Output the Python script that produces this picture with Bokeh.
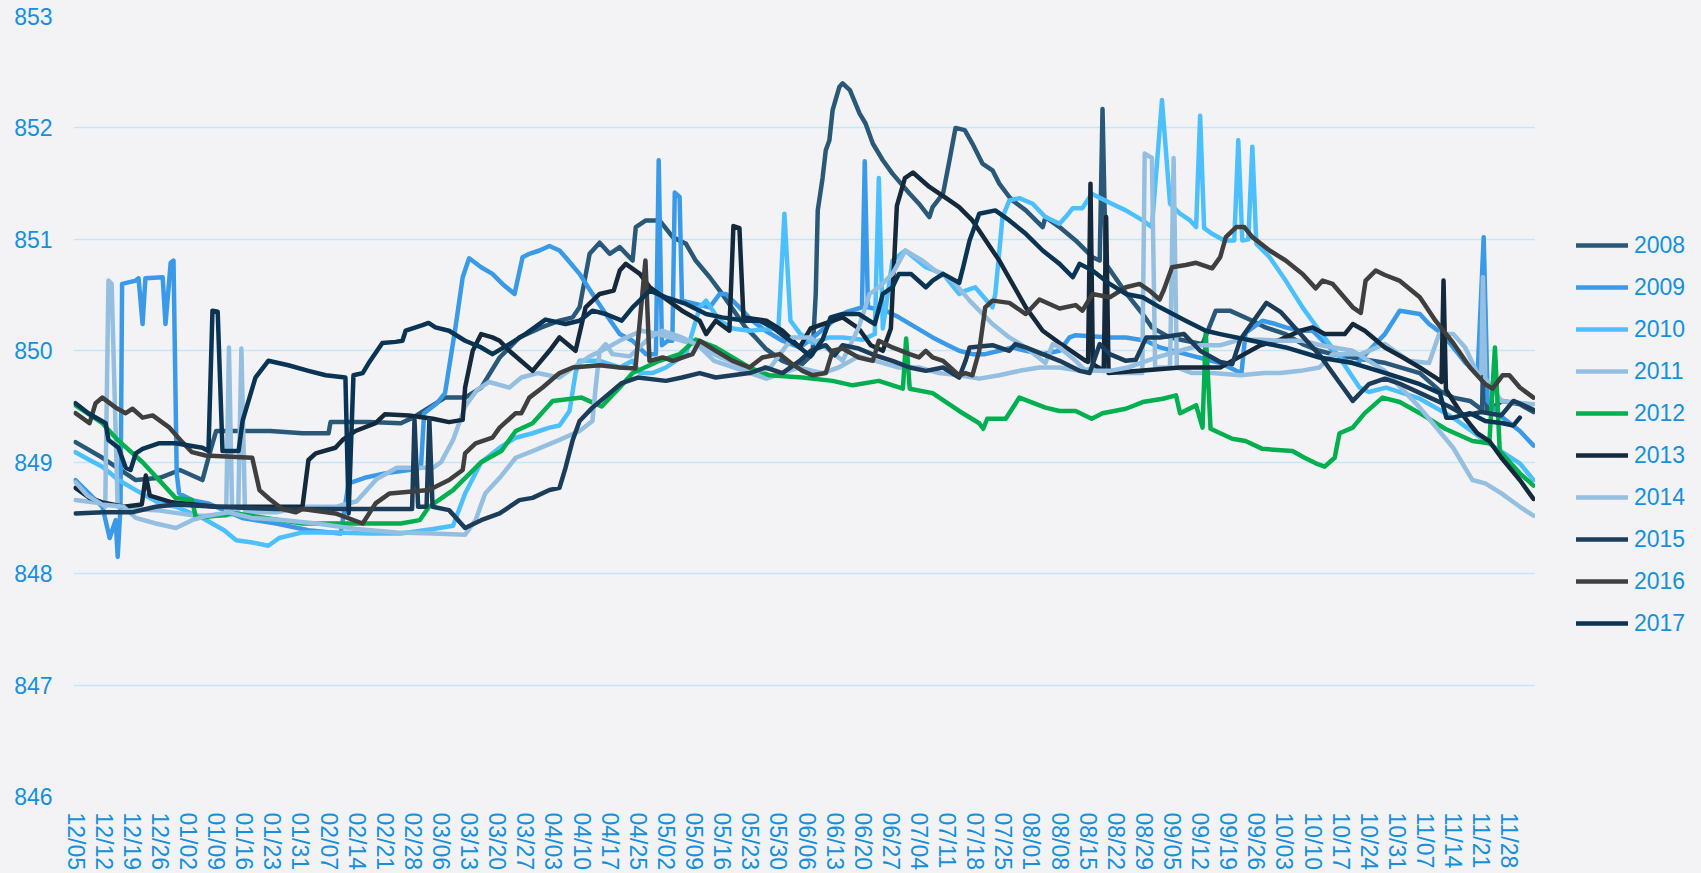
from bokeh.plotting import figure
from bokeh.layouts import row
from bokeh.models import FixedTicker, Legend, LegendItem, Range1d
from bokeh.embed import file_html
from bokeh.resources import INLINE

BG = "#f3f3f6"
TXT = "#1590dc"
FONT = "Liberation Sans"

years = ["2008", "2009", "2010", "2011", "2012", "2013", "2014", "2015", "2016", "2017"]
colors = ["#2a5878", "#3a9ae8", "#4cc0ff", "#94bfe0", "#00b050",
          "#15293c", "#94bfe0", "#1b3d5a", "#3f3f3f", "#0a3454"]

tick_labels = ["12/05", "12/12", "12/19", "12/26", "01/02", "01/09", "01/16", "01/23", "01/31",
               "02/07", "02/14", "02/21", "02/28", "03/06", "03/13", "03/20", "03/27", "04/03",
               "04/10", "04/17", "04/25", "05/02", "05/09", "05/16", "05/23", "05/30", "06/06",
               "06/13", "06/20", "06/27", "07/04", "07/11", "07/18", "07/25", "08/01", "08/08",
               "08/15", "08/22", "08/29", "09/05", "09/12", "09/19", "09/26", "10/03", "10/10",
               "10/17", "10/24", "10/31", "11/07", "11/14", "11/21", "11/28"]
n_days = 364

# (day index from 12/05, water level) pairs
s2008 = [(0,849.18),(6.7,849.04),(15,848.84),(21,848.86),(26,848.93),(31.6,848.84),(33.4,849.08),(35,849.28),(42.6,849.28),(48.5,849.28),(56.5,849.26),(63,849.26),(63.5,849.36),(73,849.36),(81,849.35),(84,849.4),(88,849.49),(92,849.58),(97,849.58),(101,849.67),(105.6,849.94),(110.5,850.12),(116,850.21),(120.5,850.27),(123.8,850.3),(125.5,850.39),(128,850.87),(130.5,850.97),(133,850.87),(135.5,850.93),(138.7,850.81),(139.5,851.11),(142,851.17),(145.4,851.17),(148.7,851.02),(152,850.96),(154.4,850.81),(157.9,850.66),(161,850.51),(166.8,850.21),(169.3,850.12),(171.8,850.02),(176,849.91),(180,849.85),(183.5,849.97),(184.3,850.51),(184.8,851.26),(186,851.55),(186.8,851.8),(187.7,851.89),(188.5,852.16),(190.2,852.37),(191,852.4),(192.8,852.34),(195.2,852.13),(196.7,852.04),(198.5,851.86),(201,851.71),(203.4,851.59),(207.7,851.41),(210,851.32),(212.6,851.2),(213.4,851.29),(216,851.41),(217.6,851.71),(219.1,852.0),(221.4,851.98),(223.3,851.86),(225.8,851.68),(228.3,851.62),(230,851.5),(232.5,851.38),(233.3,851.35),(236.6,851.26),(240.8,851.11),(241.5,851.2),(245,851.11),(249,850.99),(253.2,850.84),(255,850.81),(255.7,852.17),(256.5,850.78),(261.5,850.52),(265.7,850.33),(268,850.21),(272.4,850.12),(276.4,850.09),(280.6,850.06),(283.9,850.36),(287.4,850.36),(293,850.27),(296.3,850.21),(301.3,850.15),(305.5,850.06),(309.7,850.0),(313,849.97),(318,849.94),(326.2,849.89),(334.7,849.8),(339.7,849.64),(343,849.58),(347.2,849.55),(350.2,849.47),(350.8,850.55),(351.4,849.46),(355.3,849.55),(359.6,849.52),(363,849.45)]

s2009 = [(0,848.84),(2.5,848.75),(6.7,848.6),(8.5,848.32),(10,848.48),(10.5,848.15),(11.2,848.6),(11.6,850.6),(15,850.63),(15.7,850.65),(16.7,850.24),(17.4,850.65),(21.7,850.66),(22.4,850.24),(23.7,850.79),(24.4,850.81),(25.2,848.9),(25.8,848.72),(29,848.66),(33,848.63),(41.5,848.5),(50,848.45),(58,848.39),(66,848.36),(68,848.81),(72,848.86),(77,848.9),(83,848.93),(86,848.95),(86.8,849.44),(90,849.53),(92,849.62),(94.6,850.21),(96.4,850.66),(98,850.83),(101,850.75),(103.8,850.69),(106.3,850.6),(109.3,850.51),(111.3,850.84),(113,850.87),(115.5,850.9),(118,850.94),(120.5,850.9),(122,850.84),(125.5,850.69),(128.7,850.51),(132,850.33),(135.5,850.15),(138.7,850.09),(142,849.97),(144.5,849.97),(145.2,851.71),(146,850.05),(147.5,850.09),(148.6,850.09),(149.2,851.42),(150.4,851.38),(151,850.45),(154.4,850.42),(157.9,850.39),(160.4,850.51),(161.9,850.51),(165.3,850.39),(168.5,850.27),(171.8,850.18),(176,850.09),(180.3,850.03),(183,850.1),(188,850.25),(192,850.35),(195.8,850.39),(196.5,851.7),(197.3,850.39),(201.7,850.36),(205,850.3),(209.2,850.21),(213.4,850.12),(216.6,850.06),(220,850.0),(223.3,849.97),(226.5,849.97),(230,850.0),(233.3,850.03),(236.6,850.0),(240.8,849.97),(245,850.0),(247.5,850.12),(249,850.14),(257.5,850.12),(261.5,850.12),(266.5,850.09),(270,850.03),(276.4,849.97),(285,849.89),(289,849.82),(290.3,849.8),(291.3,850.16),(295.5,850.27),(298.8,850.24),(301.3,850.21),(304.8,850.18),(308,850.18),(312.2,850.03),(316.2,849.91),(319,849.88),(322,850.0),(326,850.15),(329.7,850.36),(334.7,850.33),(337,850.24),(340.4,850.15),(343,850.03),(346.1,849.89),(349.1,849.8),(350.6,851.02),(351.6,849.55),(355.3,849.4),(359.6,849.28),(363,849.15)]

s2010 = [(0,849.09),(3.5,849.02),(6.7,848.96),(10.7,848.84),(15,848.75),(21,848.63),(25,848.6),(31.6,848.5),(37,848.39),(40,848.3),(44,848.28),(48,848.25),(50.7,848.32),(56.5,848.37),(65,848.37),(73,848.36),(81,848.36),(89,848.4),(94,848.43),(97,848.72),(101,849.0),(105.6,849.13),(109.6,849.22),(113.8,849.26),(118,849.31),(120.5,849.33),(123,849.46),(124.5,849.8),(125.5,849.91),(130.5,849.91),(135.5,849.85),(138.7,849.91),(140.5,849.8),(143.6,849.8),(147,849.85),(152,849.97),(155.4,850.39),(157,850.45),(160.4,850.27),(163.6,850.2),(167.8,850.18),(175,850.2),(176.5,851.23),(178,850.27),(180.5,850.15),(183.5,850.07),(187.6,850.12),(191,850.12),(196,850.1),(199,850.15),(200,851.55),(201,850.2),(203.4,850.81),(206.6,850.9),(211.7,850.75),(216,850.69),(220,850.51),(221.6,850.54),(224,850.57),(228.3,850.39),(229,850.51),(230.8,851.2),(232.5,851.35),(235,851.37),(238.3,851.32),(241.5,851.2),(245,851.14),(246.5,851.2),(248.3,851.28),(250.7,851.28),(253,851.41),(258,851.32),(261.5,851.26),(265.7,851.17),(268,851.11),(270.5,852.25),(272.5,851.32),(275,851.23),(277.5,851.17),(279,851.11),(280,852.11),(281,851.1),(283,851.05),(286,850.99),(288.5,850.99),(289.5,851.89),(290.5,850.99),(292,851.0),(293,851.83),(294,850.96),(297.3,850.84),(301.3,850.63),(305.5,850.39),(309.7,850.18),(314.7,849.94),(319.7,849.67),(322,849.63),(326.3,849.67),(334.7,849.57),(343,849.4),(351,849.19),(359.6,848.99),(363,848.84)]

s2011 = [(0,848.66),(6.7,848.63),(7.4,848.6),(8.2,850.63),(9,850.6),(10.5,848.6),(14,848.58),(20,848.57),(24,848.55),(30,848.52),(37.5,848.52),(38.2,850.03),(39,848.55),(40.5,848.55),(41.3,850.02),(42.2,848.55),(50,848.55),(56.5,848.6),(65,848.6),(70,848.65),(75,848.85),(80,848.95),(85,848.95),(89,848.95),(91,849.0),(94,849.2),(97,849.5),(100,849.65),(103,849.72),(108,849.67),(111,849.76),(115,849.8),(120.5,849.76),(124,849.85),(128,849.95),(131,850.0),(136,850.1),(141,850.18),(145,850.15),(150,850.1),(155,850.05),(160,849.95),(165,849.88),(168,849.8),(172,849.75),(176,849.8),(180,849.85),(186,849.8),(190,849.85),(195,849.95),(200,849.9),(205,849.85),(210,849.85),(215,849.8),(220,849.78),(225,849.75),(230,849.78),(235,849.82),(240,849.85),(245,849.85),(250,849.82),(255,849.85),(260,849.8),(265.6,849.8),(266.2,851.77),(268,851.73),(268.8,849.85),(272.5,849.85),(273.4,851.73),(274.2,849.85),(278,849.8),(283,849.8),(290,849.78),(296,849.8),(300,849.8),(305,849.82),(309.7,849.85),(313,849.97),(320,849.97),(326,850.06),(332,849.91),(337,849.89),(339.5,850.15),(343,850.15),(346,850.03),(349,849.8),(350,849.8),(350.4,850.66),(351,849.75),(355,849.55),(363,849.52)]

s2012 = [(0,849.51),(6.7,849.35),(10.5,849.2),(16.7,849.0),(24.9,848.68),(29,848.66),(30,848.5),(40,848.54),(56.5,848.45),(73,848.45),(81,848.45),(85.7,848.48),(88,848.6),(94,848.75),(101,849.0),(106,849.1),(109.6,849.28),(113.8,849.35),(118.8,849.55),(126,849.58),(131,849.5),(135.5,849.67),(138.7,849.8),(145.4,849.91),(150.4,849.97),(154.4,850.1),(159.4,850.03),(167.8,849.85),(172.8,849.78),(181,849.76),(188.5,849.73),(193.5,849.69),(200,849.73),(206,849.66),(206.8,850.11),(207.7,849.66),(213.4,849.62),(220,849.46),(225,849.35),(226,849.3),(227,849.39),(231.6,849.39),(235,849.58),(241.5,849.49),(245,849.46),(249,849.46),(253,849.39),(255.7,849.44),(261.5,849.48),(265.7,849.54),(270.7,849.57),(274,849.6),(275,849.44),(279,849.51),(280.6,849.31),(281.4,850.16),(282.6,849.3),(288,849.21),(291.3,849.19),(295.5,849.12),(303,849.1),(306,849.04),(308.8,848.99),(311,848.96),(313.5,849.04),(314.7,849.26),(318,849.31),(321,849.44),(325.4,849.58),(329.7,849.54),(334.7,849.44),(341,849.3),(347.8,849.19),(352,849.17),(353.4,850.03),(354.6,849.1),(359.6,848.9),(363,848.79)]

s2013 = [(0,848.77),(3.5,848.68),(6.7,848.64),(12,848.6),(16.5,848.62),(17.5,848.88),(18.5,848.7),(24,848.64),(35,848.6),(45,848.6),(56.5,848.6),(58,849.02),(59.8,849.08),(64.7,849.13),(66.5,849.2),(69.7,849.28),(74.7,849.35),(77,849.43),(83,849.42),(89,849.39),(93,849.36),(96.4,849.38),(97,849.67),(98.9,850.0),(101,850.15),(103.8,850.12),(105.6,850.09),(108,850.0),(113.8,849.82),(118,850.0),(120.5,850.12),(124.5,850.0),(127,850.39),(130.5,850.51),(134,850.54),(135.5,850.72),(137,850.78),(140.5,850.69),(143,850.57),(151,850.36),(155.4,850.27),(157,850.15),(159.4,850.27),(162.8,850.18),(163.8,851.12),(165.3,851.1),(166.3,850.3),(172,850.27),(176,850.18),(180.3,850.03),(183,850.2),(187,850.25),(191,850.3),(195,850.2),(198,850.05),(201,850.0),(203,850.2),(204.5,851.3),(206.5,851.55),(208.5,851.6),(212.6,851.47),(217.6,851.35),(220,851.29),(223.3,851.17),(228.3,850.9),(230,850.81),(236.6,850.39),(240.8,850.18),(245,850.07),(251.5,849.91),(252.1,849.9),(252.7,851.5),(253.3,849.88),(256,849.82),(256.6,851.2),(257.2,849.8),(265,849.82),(275,849.85),(285,849.85),(290,849.95),(295,850.05),(300,850.1),(305,850.18),(308,850.21),(311,850.15),(316,850.15),(318,850.24),(321,850.18),(326,850.03),(330.5,849.94),(334.7,849.85),(338.6,849.76),(340.1,849.72),(340.6,850.63),(341.2,849.65),(345,849.44),(349,849.26),(352,849.19),(355,849.04),(359.6,848.84),(363,848.67)]

s2014 = [(0,848.82),(3,848.7),(6.7,848.62),(12,848.6),(15,848.5),(20,848.45),(25,848.41),(29,848.48),(33,848.52),(38,848.55),(44,848.5),(52,848.48),(60,848.45),(70,848.4),(80,848.37),(89,848.36),(97,848.35),(99.6,848.48),(102,848.72),(105.6,848.86),(109.6,849.04),(113.8,849.1),(120.5,849.2),(125.5,849.28),(128.7,849.37),(129.5,849.67),(130.5,850.0),(132,850.06),(133.7,849.97),(138,849.95),(143,850.12),(146,850.18),(151,850.12),(155,850.05),(159,849.91),(164,849.85),(168,849.8),(173,849.85),(178.5,850.12),(182.8,850.12),(186.8,850.03),(191,849.91),(195,850.21),(197.7,850.51),(200,850.57),(203.4,850.69),(206.6,850.9),(210.8,850.81),(214,850.72),(218.4,850.63),(222.6,850.45),(228.3,850.24),(232.5,850.12),(236.6,850.03),(241.5,849.89),(243.3,850.06),(245,850.03),(249,849.91),(251.5,849.82),(257.5,849.82),(262,849.85),(266,849.9),(270,849.95),(275,850.0),(280,850.05),(285,850.05),(290,850.1),(295,850.1),(300,850.09),(305.5,850.09),(310,850.05),(318,850.0),(326,849.82),(334.7,849.49),(343,849.13),(347.8,848.84),(351,848.81),(355,848.72),(359.6,848.6),(363,848.52)]

s2015 = [(0,848.54),(7,848.55),(14,848.55),(20,848.6),(25,848.62),(35,848.6),(50,848.58),(60,848.58),(70,848.58),(83.8,848.58),(84.4,849.38),(85.3,848.6),(87.4,848.6),(88.1,849.38),(88.9,848.6),(93,848.57),(97,848.41),(101,848.48),(105.6,848.54),(110.5,848.66),(113.8,848.68),(118,848.75),(120.5,848.77),(122,848.95),(123.8,849.2),(125.5,849.37),(128.7,849.49),(133,849.62),(136,849.71),(140,849.76),(147,849.73),(151,849.76),(155.4,849.8),(159.4,849.76),(167.8,849.8),(171.8,849.85),(176,849.8),(180.3,849.91),(183,850.0),(186.8,850.05),(189,849.96),(191,850.05),(195,850.02),(199,849.96),(203.4,849.91),(207.7,849.85),(211.7,849.82),(216,849.85),(220,849.76),(221.6,849.91),(222.6,850.03),(228.3,850.05),(232.5,850.0),(234,850.06),(236.6,850.03),(240.8,849.97),(245,849.91),(250,849.82),(252.5,849.8),(255,850.06),(257.5,849.97),(261.5,849.91),(264,849.92),(266.6,850.12),(270,850.12),(276,850.15),(280,850.0),(285,849.9),(288,849.88),(290,850.1),(296.5,850.43),(300,850.35),(305,850.15),(310,849.95),(315,849.7),(318,849.55),(322,849.7),(326,849.75),(330,849.7),(336,849.6),(342,849.5),(346,849.42),(350,849.45),(355,849.42),(358,849.55),(360,849.52),(363,849.47)]

s2016 = [(0,849.44),(3.5,849.35),(5,849.53),(6.7,849.58),(10,849.49),(12.5,849.44),(14.2,849.48),(16.7,849.4),(19.2,849.42),(23.4,849.31),(26.6,849.18),(29,849.09),(32.4,849.06),(44,849.04),(45.8,848.75),(48.3,848.67),(51.5,848.58),(54.8,848.55),(56.5,848.58),(64.7,848.54),(71.5,848.45),(74.7,848.63),(78.2,848.72),(88,848.75),(93,848.84),(96.4,848.93),(97,849.08),(99.6,849.17),(103.8,849.22),(105.6,849.31),(109.6,849.44),(111,849.44),(113,849.58),(116.3,849.67),(120.5,849.8),(123.8,849.85),(130.5,849.87),(135.5,849.85),(139.4,849.84),(141.9,850.81),(142.9,849.91),(146.2,849.94),(148.7,849.91),(153.6,849.97),(155.4,850.09),(159.4,850.0),(163.6,849.91),(167.8,849.85),(171,849.94),(175.3,849.97),(178.5,849.88),(181,849.82),(183.5,849.78),(186.8,849.8),(188.5,850.0),(191,850.02),(195,849.94),(198.5,849.91),(200,850.09),(203.4,850.03),(207.7,849.97),(210,849.94),(211.7,850.0),(213.4,849.94),(216,849.91),(220,849.78),(221.6,849.8),(223.3,849.78),(225,850.0),(226.5,850.39),(228.3,850.45),(232.5,850.43),(236.6,850.33),(240,850.46),(245,850.38),(249,850.41),(250.7,850.36),(253.2,850.51),(257.5,850.48),(261.5,850.57),(264.9,850.6),(267.4,850.54),(269.9,850.46),(271,850.55),(273,850.75),(276.4,850.77),(279,850.79),(283,850.74),(285,850.84),(286.4,851.02),(289,851.11),(291,851.11),(293,851.02),(297.3,850.9),(301.3,850.81),(305.5,850.69),(308.8,850.56),(310.5,850.63),(313,850.6),(318,850.39),(320,850.34),(321.2,850.63),(323.7,850.72),(326,850.68),(329.6,850.63),(334.7,850.48),(338.6,850.27),(343,850.07),(347.2,849.85),(351,849.7),(352.8,849.66),(355.3,849.78),(357,849.78),(359.6,849.67),(363,849.58)]

s2017 = [(0,849.53),(3.2,849.44),(7.5,849.35),(8.2,849.2),(10.7,849.13),(12.5,848.95),(13.7,848.93),(15,849.08),(16.7,849.12),(20.7,849.17),(24.9,849.17),(31.6,849.13),(33.1,849.1),(34.1,850.36),(35.4,850.35),(36.6,849.1),(40.6,849.1),(41.6,849.37),(44.8,849.76),(48,849.91),(53,849.87),(58,849.82),(62.3,849.78),(67.2,849.76),(68,848.54),(69.2,849.78),(71.5,849.8),(73,849.89),(76.4,850.07),(79.7,850.08),(81.4,850.09),(82.2,850.18),(86.4,850.23),(87.9,850.25),(89.6,850.21),(93,850.18),(97,850.09),(101,850.03),(103.8,849.97),(108,850.06),(112,850.15),(117,850.28),(122,850.24),(125.5,850.27),(128.7,850.36),(132,850.33),(136,850.27),(138.7,850.39),(143,850.54),(147,850.48),(152,850.42),(157,850.33),(161,850.3),(166.8,850.27),(170.3,850.27),(173.6,850.21),(176.8,850.12),(180.3,850.03),(183,849.95),(186,850.1),(188,850.3),(191,850.33),(195,850.33),(199,850.24),(201,850.51),(203.4,850.57),(205,850.69),(208,850.69),(211.7,850.57),(213.4,850.63),(216,850.69),(220,850.61),(221,850.75),(222.6,850.99),(225,851.23),(229,851.26),(232.5,851.17),(236.6,851.05),(240.8,850.9),(245,850.78),(248.3,850.66),(250,850.78),(253.2,850.72),(257.5,850.6),(261.5,850.51),(265.7,850.48),(270,850.39),(276.4,850.27),(281.4,850.18),(285,850.15),(293,850.09),(301.3,850.03),(309.7,849.94),(318,849.89),(326.2,849.8),(334.7,849.7),(339.7,849.62),(341.3,849.4),(343,849.4),(347.2,849.44),(351,849.37),(355.3,849.35),(358,849.33),(359.6,849.4)]

series = [s2008, s2009, s2010, s2011, s2012, s2013, s2014, s2015, s2016, s2017]

# window-pixel layout
FRAME_L, FRAME_T, FRAME_R, FRAME_B = 73, 16, 1535, 796
H = 880          # a few px taller than the window; body overflow is hidden
LEG_W = 1701 - FRAME_R
LW = 4.5

p = figure(width=FRAME_R, height=H, output_backend="svg", toolbar_location=None,
           x_range=Range1d(0, n_days), y_range=Range1d(846, 853),
           min_border_left=FRAME_L, min_border_right=0,
           min_border_top=FRAME_T, min_border_bottom=H - FRAME_B,
           background_fill_color=BG, border_fill_color=BG, outline_line_color=None)

for col, s in zip(colors, series):
    xs = [d + 0.5 for d, _ in s]
    ys = [v for _, v in s]
    p.line(xs, ys, line_color=col, line_width=LW, line_cap="round", line_join="round")

p.xgrid.visible = False
p.ygrid.grid_line_color = "#c4e6fa"
p.ygrid.grid_line_width = 1.5

p.yaxis.ticker = FixedTicker(ticks=list(range(846, 854)))
p.xaxis.ticker = FixedTicker(ticks=[7 * i + 0.5 for i in range(len(tick_labels))])
p.xaxis.major_label_overrides = {7 * i + 0.5: lab for i, lab in enumerate(tick_labels)}
p.xaxis.major_label_orientation = "vertical"

for ax in (p.xaxis, p.yaxis):
    ax.axis_line_color = None
    ax.major_tick_line_color = None
    ax.minor_tick_line_color = None
    ax.major_tick_out = 0
    ax.major_tick_in = 0
    ax.major_label_text_font = FONT
    ax.major_label_text_font_size = "23px"
    ax.major_label_text_color = TXT
p.yaxis.major_label_standoff = 21
p.xaxis.major_label_standoff = 16

# legend panel: a second figure to the right of the plot
lp = figure(width=LEG_W, height=H, output_backend="svg", toolbar_location=None,
            x_range=Range1d(0, 1), y_range=Range1d(0, 1),
            min_border=0, min_border_left=0, min_border_right=0,
            min_border_top=0, min_border_bottom=0,
            background_fill_color=BG, border_fill_color=BG, outline_line_color=None)
lp.axis.visible = False
lp.grid.visible = False

items = []
for yr, col in zip(years, colors):
    # points lie outside the panel's ranges: only the legend swatch is seen
    r = lp.line([5, 6], [5, 6], line_color=col, line_width=LW, line_cap="round", line_join="round")
    items.append(LegendItem(label=yr, renderers=[r]))

ITEM_H, SPACING = 28, 14
leg_top = 246 - ITEM_H // 2
leg_bottom = leg_top + len(years) * ITEM_H + (len(years) - 1) * SPACING
legend = Legend(items=items, location=(41, H - leg_bottom - 83), orientation="vertical",
                glyph_width=52, glyph_height=ITEM_H, label_height=ITEM_H, spacing=SPACING,
                label_standoff=6, padding=0, margin=0,
                border_line_color=None, background_fill_alpha=0,
                label_text_font=FONT, label_text_font_size="23px",
                label_text_color=TXT)
lp.add_layout(legend)

layout = row(p, lp, spacing=0)

html = file_html(layout, INLINE)
html = html.replace("</head>",
                    "<style>html,body{background:%s;margin:0;overflow:hidden;}</style></head>" % BG, 1)
open("out.html", "w").write(html)
